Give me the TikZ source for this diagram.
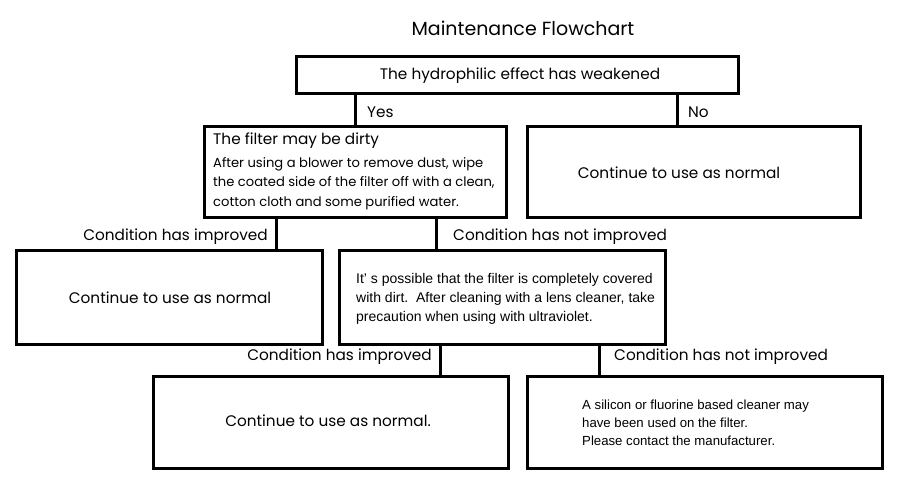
\documentclass[tikz,border=0pt]{standalone}
\usepackage{fontspec}
\setmainfont{Poppins}
\newfontfamily\bodyfont{Liberation Sans}
\begin{document}
\begin{tikzpicture}[x=1pt,y=-1pt,
  box/.style={draw, line width=3pt, inner sep=0pt, rectangle},
  conn/.style={line width=3pt},
  lbl/.style={inner sep=0pt, font=\fontsize{15.3}{17}\selectfont},
  btxt/.style={inner sep=0pt, align=left, font=\bodyfont\fontsize{14}{19}\selectfont},
  gtxt/.style={inner sep=0pt, align=left, font=\fontsize{13.1}{19.5}\selectfont}
]
\useasboundingbox (0,0) rectangle (900,481);
\fill[white] (0,0) rectangle (900,481);

\node[inner sep=0pt, font=\fontsize{19}{22}\selectfont] (title) at (523,28) {Maintenance Flowchart};

\node[box, minimum width=442pt, minimum height=37pt] (b1) at (517,75.5) {};
\node[lbl] (b1t) at (520,75.5) {The hydrophilic effect has weakened};

\node[box, minimum width=302pt, minimum height=91pt] (filter) at (355,172.5) {};
\node[box, minimum width=333pt, minimum height=91pt] (nobox) at (693.5,172.5) {};
\node[lbl] (not) at (679,173) {Continue to use as normal};
\node[lbl, anchor=west] (fh) at (213,141) {The filter may be dirty};
\node[gtxt, anchor=north west] (fb) at (213,157) {After using a blower to remove dust, wipe\\the coated side of the filter off with a clean,\\cotton cloth and some purified water.};

\draw[conn] ([xshift=61pt]b1.south west) -- ([xshift=153pt]filter.north west);
\draw[conn] ([xshift=383pt]b1.south west) -- ([xshift=152pt]nobox.north west);
\node[lbl, anchor=west] (yes) at (367,112) {Yes};
\node[lbl, anchor=west] (no) at (688,112) {No};

\node[box, minimum width=306pt, minimum height=93pt] (left) at (169,297.5) {};
\node[lbl] (leftt) at (170,298) {Continue to use as normal};
\node[box, minimum width=326pt, minimum height=93pt] (mid) at (502,297.5) {};
\node[btxt, anchor=west] (midt) at (356,299) {It’\ s possible that the filter is completely covered\\with dirt.\ \ After cleaning with a lens cleaner, take\\precaution when using with ultraviolet.};

\draw[conn] ([xshift=74pt]filter.south west) -- ([xshift=262pt]left.north west);
\draw[conn] ([xshift=234pt]filter.south west) -- ([xshift=99pt]mid.north west);
\node[lbl, anchor=east] (ci1) at (268,237) {Condition has improved};
\node[lbl, anchor=west] (cn1) at (453,237) {Condition has not improved};

\node[box, minimum width=355pt, minimum height=92pt] (bl) at (330.5,422) {};
\node[lbl] (blt) at (328,421) {Continue to use as normal.};
\node[box, minimum width=355pt, minimum height=92pt] (br) at (704.5,422) {};
\node[btxt, anchor=west, font=\bodyfont\fontsize{13.2}{18}\selectfont] (brt) at (582,423) {A silicon or fluorine based cleaner may\\have been used on the filter.\\Please contact the manufacturer.};

\draw[conn] ([xshift=103pt]mid.south west) -- ([xshift=289pt]bl.north west);
\draw[conn] ([xshift=262pt]mid.south west) -- ([xshift=74pt]br.north west);
\node[lbl, anchor=east] (ci2) at (432,357) {Condition has improved};
\node[lbl, anchor=west] (cn2) at (614,357) {Condition has not improved};
\end{tikzpicture}
\end{document}
